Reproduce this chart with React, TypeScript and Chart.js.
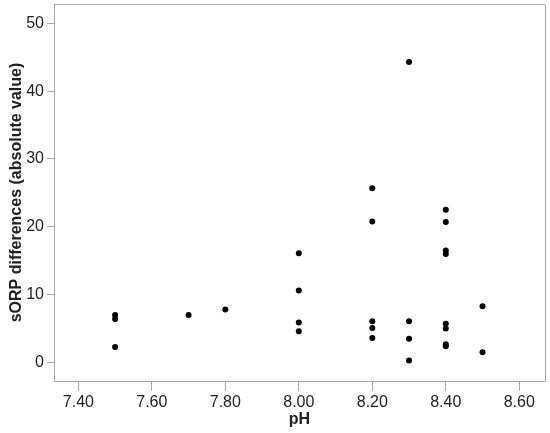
import React, { useEffect, useRef } from "react";
import { Chart, registerables } from "chart.js";

Chart.register(...registerables);

// pH categories and measured sORP differences (absolute value)
const phValues = [
  7.5, 7.5, 7.5,
  7.7,
  7.8,
  8.0, 8.0, 8.0, 8.0,
  8.2, 8.2, 8.2, 8.2, 8.2,
  8.3, 8.3, 8.3, 8.3,
  8.4, 8.4, 8.4, 8.4, 8.4, 8.4, 8.4, 8.4,
  8.5, 8.5,
];
const sorpDiff = [
  7.0, 6.4, 2.3,
  7.0,
  7.8,
  16.1, 10.6, 5.9, 4.6,
  25.7, 20.8, 6.1, 5.1, 3.6,
  44.3, 6.1, 3.5, 0.3,
  22.5, 20.7, 16.5, 16.0, 5.7, 5.0, 2.7, 2.4,
  8.3, 1.5,
];
const xTicks = [7.4, 7.6, 7.8, 8.0, 8.2, 8.4, 8.6];
const yTicks = [0, 10, 20, 30, 40, 50];

const FONT = '"Liberation Sans", Arial, sans-serif';
const FRAME = "#a9a9a9";

const framePlugin = {
  id: "frame",
  afterDatasetsDraw(chart: any) {
    const { ctx, chartArea } = chart;
    ctx.save();
    ctx.strokeStyle = FRAME;
    ctx.lineWidth = 1;
    ctx.beginPath();
    ctx.moveTo(chartArea.left, chartArea.top + 0.5);
    ctx.lineTo(chartArea.right + 0.5, chartArea.top + 0.5);
    ctx.lineTo(chartArea.right + 0.5, chartArea.bottom);
    ctx.stroke();
    ctx.restore();
  },
};

export default function App() {
  const ref = useRef<HTMLCanvasElement>(null);
  useEffect(() => {
    if (!ref.current) return;
    const chart = new Chart(ref.current, {
      type: "scatter",
      data: {
        datasets: [
          {
            data: phValues.map((x, i) => ({ x, y: sorpDiff[i] })),
            backgroundColor: "#000",
            borderWidth: 0,
            pointRadius: 3,
          },
        ],
      },
      options: {
        responsive: false,
        animation: false,
        devicePixelRatio: 1,
        layout: { padding: { top: 3, right: 5, bottom: 0, left: 0 } },
        plugins: { legend: { display: false }, tooltip: { enabled: false } },
        scales: {
          x: {
            type: "linear",
            min: 7.3337,
            max: 8.67,
            afterBuildTicks: (s: any) => {
              s.ticks = xTicks.map((v) => ({ value: v }));
            },
            afterFit: (s: any) => {
              s.height = 52;
              s.paddingLeft = 0;
              s.paddingRight = 0;
            },
            ticks: {
              callback: (v: any) => Number(v).toFixed(2),
              color: "#222",
              font: { family: FONT, size: 16 },
              padding: 2,
              maxRotation: 0,
            },
            grid: {
              display: true,
              drawOnChartArea: false,
              drawTicks: true,
              tickLength: 10,
              color: FRAME,
            },
            border: { display: true, color: FRAME },
            title: {
              display: true,
              text: "pH",
              color: "#222",
              font: { family: FONT, size: 16, weight: "bold" },
              padding: { top: 0, bottom: 3.5 },
            },
          },
          y: {
            type: "linear",
            min: -2.72,
            max: 52.84,
            afterBuildTicks: (s: any) => {
              s.ticks = yTicks.map((v) => ({ value: v }));
            },
            afterFit: (s: any) => {
              s.width = 54;
              s.paddingTop = 0;
              s.paddingBottom = 0;
            },
            ticks: {
              color: "#222",
              font: { family: FONT, size: 16 },
              padding: 3,
            },
            grid: {
              display: true,
              drawOnChartArea: false,
              drawTicks: true,
              tickLength: 7,
              color: FRAME,
            },
            border: { display: true, color: FRAME },
            title: {
              display: true,
              text: "sORP differences (absolute value)",
              color: "#222",
              font: { family: FONT, size: 16, weight: "bold" },
              padding: { top: 7.4, bottom: 0 },
            },
          },
        },
      },
      plugins: [framePlugin],
    });
    return () => chart.destroy();
  }, []);
  return (
    <div style={{ position: "absolute", left: 0, top: 0, width: 550, height: 433, background: "#fff" }}>
      <canvas ref={ref} width={550} height={433} />
    </div>
  );
}
